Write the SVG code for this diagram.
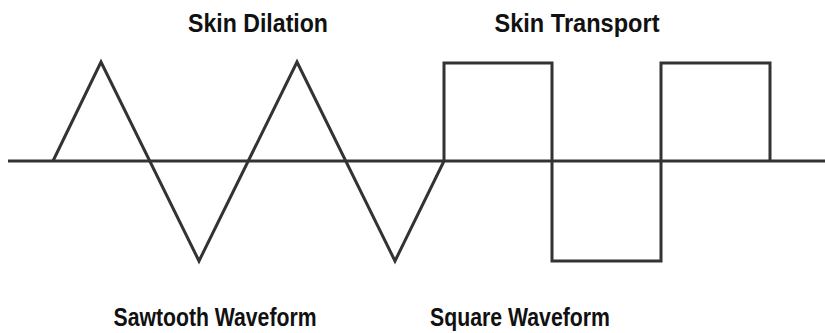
<svg xmlns="http://www.w3.org/2000/svg" width="825" height="333" viewBox="0 0 825 333">
<style>
.w{fill:none;stroke:#333;stroke-width:3;stroke-linejoin:miter}
.t{font-family:"Liberation Sans",Arial,sans-serif;font-weight:bold;font-size:26px;fill:#111;text-anchor:middle}
</style>
<rect width="825" height="333" fill="#fff"/>
<g id="axis"><line class="w" x1="8" y1="161" x2="825" y2="161"/></g>
<g id="sawtooth"><polyline class="w" points="53,161 101,62 199,261 297,62 395,261 444,161"/></g>
<g id="square"><polyline class="w" points="444,161 444,63 552,63 552,261 661,261 661,63 770,63 770,161"/></g>
<g id="labels">
<text class="t" x="258" y="32" textLength="140" lengthAdjust="spacingAndGlyphs">Skin Dilation</text>
<text class="t" x="577" y="32" textLength="165" lengthAdjust="spacingAndGlyphs">Skin Transport</text>
<text class="t" x="215" y="326" textLength="203" lengthAdjust="spacingAndGlyphs">Sawtooth Waveform</text>
<text class="t" x="520" y="326" textLength="180" lengthAdjust="spacingAndGlyphs">Square Waveform</text>
</g>
</svg>
